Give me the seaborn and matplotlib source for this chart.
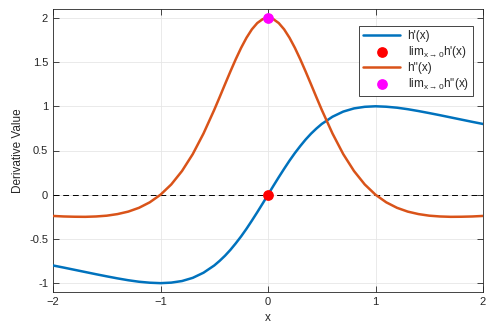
import matplotlib
matplotlib.use('Agg')
import matplotlib.pyplot as plt
import numpy as np
import seaborn as sns

# x samples (denser around the peak)
x_vals = [-2.0, -1.9, -1.8, -1.7, -1.6, -1.5, -1.4, -1.3, -1.2, -1.1, -1.0,
          -0.9, -0.8, -0.7, -0.6, -0.5, -0.45, -0.4, -0.35, -0.3, -0.25, -0.2, -0.15, -0.1, -0.05, 0.0,
          0.05, 0.1, 0.15, 0.2, 0.25, 0.3, 0.35, 0.4, 0.45, 0.5, 0.6, 0.7, 0.8, 0.9, 1.0,
          1.1, 1.2, 1.3, 1.4, 1.5, 1.6, 1.7, 1.8, 1.9, 2.0]

h1_vals = [-0.800, -0.824, -0.849, -0.874, -0.899, -0.923, -0.946, -0.967, -0.984, -0.995, -1.000,
           -0.994, -0.976, -0.940, -0.882, -0.800, -0.748, -0.690, -0.624, -0.550, -0.471, -0.385, -0.293, -0.198, -0.100, 0.000,
           0.100, 0.198, 0.293, 0.385, 0.471, 0.550, 0.624, 0.690, 0.748, 0.800, 0.882, 0.940, 0.976, 0.994, 1.000,
           0.995, 0.984, 0.967, 0.946, 0.923, 0.899, 0.874, 0.849, 0.824, 0.800]

h2_vals = [-0.240, -0.246, -0.249, -0.250, -0.246, -0.237, -0.219, -0.191, -0.148, -0.086, 0.000,
           0.116, 0.268, 0.459, 0.692, 0.960, 1.103, 1.249, 1.393, 1.532, 1.661, 1.775, 1.870, 1.941, 1.985, 2.000,
           1.985, 1.941, 1.870, 1.775, 1.661, 1.532, 1.393, 1.249, 1.103, 0.960, 0.692, 0.459, 0.268, 0.116, 0.000,
           -0.086, -0.148, -0.191, -0.219, -0.237, -0.246, -0.250, -0.249, -0.246, -0.240]

lim_x = [0.0]
lim_h1 = [0.0]
lim_h2 = [2.0]

x_ticks = [-2, -1, 0, 1, 2]
y_ticks = [-1, -0.5, 0, 0.5, 1, 1.5, 2]
y_labels = ['-1', '-0.5', '0', '0.5', '1', '1.5', '2']

sns.set_style('whitegrid')
plt.rcParams['font.family'] = ['Liberation Sans', 'DejaVu Sans']
plt.rcParams['mathtext.fontset'] = 'custom'
plt.rcParams['mathtext.rm'] = 'Liberation Sans'
plt.rcParams['mathtext.it'] = 'Liberation Sans'

fig = plt.figure(figsize=(4.98, 3.34), dpi=100)
ax = fig.add_axes([53 / 498, 1 - 292 / 334, 430 / 498, 283 / 334])

blue = '#0072BD'
orange = '#D95319'

ax.axhline(0, color='black', linestyle=(0, (6, 4)), linewidth=0.7, zorder=2)
sns.lineplot(x=x_vals, y=h1_vals, ax=ax, color=blue, linewidth=1.8, label="h'(x)", zorder=3)
ax.scatter(lim_x, lim_h1, color='red', s=45, zorder=5,
           label=r"lim$_{\mathregular{x \rightarrow 0}}$h'(x)")
sns.lineplot(x=x_vals, y=h2_vals, ax=ax, color=orange, linewidth=1.8, label="h''(x)", zorder=3)
ax.scatter(lim_x, lim_h2, color='magenta', s=45, zorder=5,
           label=r"lim$_{\mathregular{x \rightarrow 0}}$h''(x)")

ax.set_xlim(-2, 2)
ax.set_ylim(-1.1, 2.1)
ax.set_xticks(x_ticks)
ax.set_yticks(y_ticks)
ax.set_yticklabels(y_labels)
ax.set_xlabel('x', fontsize=8.5, color='#262626')
ax.set_ylabel('Derivative Value', fontsize=8.5, color='#262626')
ax.tick_params(axis='both', labelsize=8, colors='#262626', direction='in',
               length=4, width=0.6, top=True, right=True, bottom=True, left=True)
ax.grid(True, color='#e6e6e6', linewidth=0.6)
for s in ax.spines.values():
    s.set_visible(True)
    s.set_color('#262626')
    s.set_linewidth(0.6)

leg = ax.legend(loc='upper right', bbox_to_anchor=(0.99, 0.96), fontsize=8.5,
                frameon=True, fancybox=False, edgecolor='#262626', framealpha=1,
                handlelength=3.2, labelspacing=0.15, borderpad=0.35, handletextpad=0.6)
leg.get_frame().set_linewidth(0.6)

fig.savefig('out.png', dpi=100)
